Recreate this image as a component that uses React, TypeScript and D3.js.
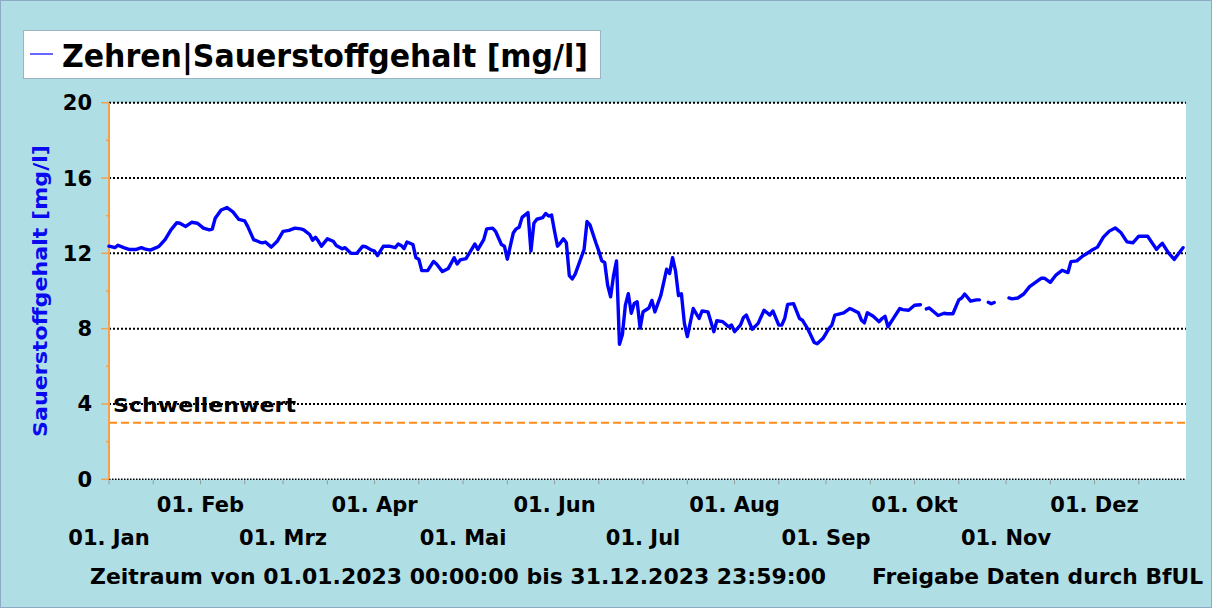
import React from 'react';
import * as d3 from 'd3';

// day offsets from 01.01.2023 and oxygen values [mg/l]; null = no data
const days = [
  0, 2, 3, 5, 7, 9, 11, 12, 14, 16,
  17, 19, 21, 23, 24, 26, 28, 30, 32, 34,
  35, 36, 38, 40, 42, 44, 46, 47, 49, 51,
  52, 53, 55, 57, 59, 61, 63, 65, 66, 68,
  69, 70, 71, 72, 74, 76, 77, 79, 80, 82,
  84, 86, 87, 89, 90, 91, 93, 95, 97, 98,
  99, 100, 101, 103, 104, 105, 106, 108, 110, 111,
  113, 115, 117, 118, 119, 121, 123, 124, 125, 127,
  128, 130, 131, 133, 134, 135, 137, 138, 139, 140,
  142, 143, 144, 145, 147, 148, 149, 150, 151, 152,
  153, 154, 155, 156, 157, 158, 161, 162, 163, 165,
  166, 167, 168, 169, 170, 171, 172, 173, 174, 175,
  176, 177, 178, 179, 180, 181, 183, 184, 185, 187,
  189, 190, 191, 192, 193, 194, 195, 196, 198, 200,
  201, 203, 205, 206, 208, 210, 211, 212, 214, 215,
  216, 218, 220, 222, 224, 225, 227, 228, 229, 230,
  232, 234, 235, 237, 239, 240, 242, 244, 245, 246,
  248, 249, 251, 252, 254, 255, 256, 257, 259, 261,
  262, 263, 264, 266, 268, 269, 271, 273, 275, 276,
  277, 278, 281, 283, 284, 286, 288, 289, 290, 292,
  294, 295, 296, 298, 299, 300, 301, 305, 306, 308,
  310, 312, 314, 316, 317, 319, 321, 323, 325, 326,
  328, 330, 331, 333, 335, 337, 339, 341, 343, 345,
  347, 349, 350, 352, 355, 356, 357, 359, 361, 362,
  364,
];

const oxygen: (number | null)[] = [
  12.38, 12.3, 12.43, 12.3, 12.2, 12.2, 12.3, 12.24, 12.17, 12.3,
  12.38, 12.73, 13.25, 13.63, 13.6, 13.43, 13.65, 13.6, 13.34, 13.25,
  13.29, 13.86, 14.3, 14.43, 14.2, 13.8, 13.72, 13.43, 12.73, 12.6,
  12.56, 12.6, 12.33, 12.64, 13.17, 13.22, 13.34, 13.3, 13.25, 13.0,
  12.7, 12.85, 12.64, 12.38, 12.77, 12.64, 12.42, 12.24, 12.3, 12.0,
  12.0, 12.38, 12.35, 12.17, 12.12, 11.88, 12.38, 12.38, 12.3, 12.5,
  12.42, 12.26, 12.6, 12.47, 11.77, 11.69, 11.08, 11.08, 11.57, 11.43,
  11.03, 11.2, 11.77, 11.43, 11.65, 11.72, 12.24, 12.5, 12.2, 12.73,
  13.3, 13.34, 13.17, 12.47, 12.38, 11.69, 13.08, 13.3, 13.39, 13.91,
  14.16, 12.12, 13.6, 13.81, 13.9, 14.12, 13.98, 14.03, 13.17, 12.38,
  12.56, 12.77, 12.56, 10.82, 10.64, 10.9, 12.2, 13.69, 13.51, 12.56,
  12.12, 11.6, 11.51, 10.3, 9.69, 10.82, 11.6, 7.17, 7.69, 9.25,
  9.86, 8.82, 9.34, 9.43, 8.03, 8.9, 9.1, 9.5, 8.89, 9.76,
  11.16, 10.93, 11.77, 11.07, 9.76, 9.85, 8.28, 7.58, 9.07, 8.54,
  8.94, 8.89, 7.84, 8.42, 8.37, 8.1, 8.19, 7.84, 8.19, 8.59,
  8.72, 7.97, 8.28, 8.98, 8.72, 8.94, 8.19, 8.19, 8.54, 9.29,
  9.33, 8.54, 8.45, 7.93, 7.27, 7.2, 7.49, 8.02, 8.19, 8.72,
  8.8, 8.84, 9.07, 9.01, 8.84, 8.45, 8.31, 8.84, 8.66, 8.37,
  8.54, 8.66, 8.1, 8.59, 9.07, 9.01, 8.98, 9.24, 9.27, null,
  9.05, 9.1, 8.7, 8.82, 8.79, 8.79, 9.53, 9.63, 9.84, 9.46,
  9.53, 9.53, null, 9.4, 9.32, 9.39, null, 9.63, 9.58, 9.63,
  9.84, 10.23, 10.46, 10.68, 10.68, 10.46, 10.86, 11.1, 10.98, 11.56,
  11.6, 11.86, 11.95, 12.16, 12.33, 12.86, 13.18, 13.35, 13.09, 12.61,
  12.56, 12.91, 12.91, 12.91, 12.21, 12.39, 12.53, 12.04, 11.68, 11.89,
  12.3,
];

const monthNames = ['Jan', 'Feb', 'Mrz', 'Apr', 'Mai', 'Jun', 'Jul', 'Aug', 'Sep', 'Okt', 'Nov', 'Dez'];
const yTicks = [0, 4, 8, 12, 16, 20];
const yMinorTicks = [2, 6, 10, 14, 18];
const threshold = 3;

const W = 1212;
const H = 608;
const font = '"DejaVu Sans", Verdana, sans-serif';

export default function App() {
  const start = new Date(2023, 0, 1);
  const end = new Date(2024, 0, 1);
  const x = d3.scaleTime().domain([start, end]).range([109, 1186]);
  const y = d3.scaleLinear().domain([0, 20]).range([479.3, 102.7]);

  const points = days.map((d, i) => ({ date: d3.timeDay.offset(start, d), v: oxygen[i] }));
  const line = d3.line<{ date: Date; v: number | null }>()
    .defined(d => d.v != null)
    .x(d => x(d.date))
    .y(d => y(d.v as number));

  const months = d3.timeMonth.range(start, end);
  const minorX = months.flatMap(m => [m, d3.timeDay.offset(m, 15)]);

  const [x0, x1] = x.range();

  return (
    <svg width={W} height={H} style={{ position: 'absolute', left: 0, top: 0 }} fontFamily={font}>
      <rect x={0.5} y={0.5} width={W - 1} height={H - 1} fill="#b0dee5" stroke="#8eaac4" />
      <rect x={x0} y={y(20)} width={x1 - x0} height={y(0) - y(20)} fill="#fff" />

      {/* legend */}
      <rect x={23.5} y={30.5} width={577} height={48} fill="#fff" stroke="#9ab4c4" />
      <line x1={30} x2={53} y1={54} y2={54} stroke="#0000ff" strokeWidth={1.2} />
      <text x={62} y={67} fontSize={32} fontWeight="bold" textLength={526} lengthAdjust="spacingAndGlyphs">
        Zehren|Sauerstoffgehalt [mg/l]
      </text>

      {/* grid */}
      {yTicks.map(t => (
        <line key={t} x1={x0} x2={x1} y1={y(t)} y2={y(t)} stroke="#000"
          strokeWidth={t === 0 ? 1.5 : 2} strokeDasharray={t === 0 ? '1.5,1.5' : '2,2'} />
      ))}

      {/* threshold */}
      <line x1={x0} x2={x1} y1={y(threshold)} y2={y(threshold)} stroke="#ff8c1a" strokeWidth={2} strokeDasharray="8,4" />
      <text x={113} y={412} fontSize={20} fontWeight="bold" textLength={183} lengthAdjust="spacingAndGlyphs">Schwellenwert</text>

      {/* y axis */}
      <line x1={x0} x2={x0} y1={y(20)} y2={y(0)} stroke="#f5a04a" strokeWidth={2} />
      {yTicks.map(t => (
        <g key={t}>
          <line x1={x0 - 8} x2={x0} y1={y(t)} y2={y(t)} stroke="#f5a04a" strokeWidth={1.5} />
          <text x={92} y={y(t) + 7.5} fontSize={21} fontWeight="bold" textAnchor="end">{t}</text>
        </g>
      ))}
      {yMinorTicks.map(t => (
        <line key={t} x1={x0 - 3} x2={x0} y1={y(t)} y2={y(t)} stroke="#f5a04a" strokeWidth={1.5} />
      ))}
      <text transform={`translate(47,291) rotate(-90)`} fontSize={19} fontWeight="bold" fill="#0a0af0"
        textAnchor="middle" textLength={292} lengthAdjust="spacingAndGlyphs">
        Sauerstoffgehalt [mg/l]
      </text>

      {/* x axis */}
      {minorX.map((m, i) => (
        <line key={i} x1={x(m)} x2={x(m)} y1={y(0) + 1} y2={y(0) + 5} stroke="#999" strokeWidth={1} />
      ))}
      {months.map((m, i) => (
        <text key={i} x={x(m)} y={i % 2 === 1 ? 512 : 545} fontSize={21} fontWeight="bold" textAnchor="middle">
          {`01. ${monthNames[m.getMonth()]}`}
        </text>
      ))}

      {/* data */}
      <path d={line(points) ?? ''} fill="none" stroke="#0000ff" strokeWidth={3.4} strokeLinejoin="round" strokeLinecap="round" />

      {/* footer */}
      <text x={90} y={584} fontSize={21} fontWeight="bold" textLength={736} lengthAdjust="spacingAndGlyphs">
        Zeitraum von 01.01.2023 00:00:00 bis 31.12.2023 23:59:00
      </text>
      <text x={872} y={584} fontSize={21} fontWeight="bold" textLength={331} lengthAdjust="spacingAndGlyphs">
        Freigabe Daten durch BfUL
      </text>
    </svg>
  );
}
